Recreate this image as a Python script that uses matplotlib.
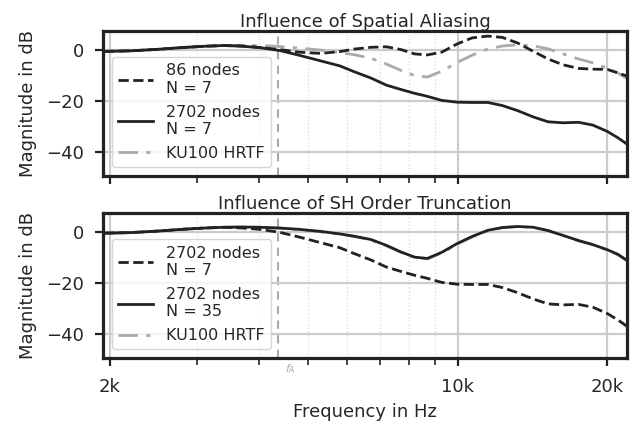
import numpy as np
import matplotlib
matplotlib.use("Agg")
from matplotlib import pyplot as plt
from matplotlib.ticker import FixedLocator, FixedFormatter, NullFormatter

# frequency grid (Hz) and magnitudes (dB)
freqs = [1950, 2200, 2500, 2800, 3100, 3400, 3700, 4000, 4400, 4800, 5300, 5800,
         6200, 6700, 7200, 7700, 8200, 8700, 9300, 10000, 10700, 11500, 12300,
         13200, 14200, 15200, 16300, 17500, 18700, 20000, 21000, 22100]

mag_86_n7 = [-0.5, -0.3, 0.3, 1.0, 1.5, 1.8, 1.6, 1.0, 0.2, -0.8, -1.3, -0.6,
             0.4, 1.1, 1.3, 0.2, -1.5, -1.9, -0.8, 2.5, 4.8, 5.5, 5.0,
             2.8, -0.5, -3.5, -5.8, -7.2, -7.5, -7.6, -9.0, -10.5]

mag_2702_n7 = [-0.5, -0.3, 0.3, 1.0, 1.5, 1.8, 1.5, 1.0, -0.2, -2.0, -4.2, -6.2,
               -8.5, -11.0, -13.8, -15.5, -17.0, -18.2, -19.8, -20.5, -20.6, -20.6, -21.8,
               -23.8, -26.3, -28.2, -28.6, -28.4, -29.5, -32.0, -34.5, -37.5]

mag_2702_n35 = [-0.5, -0.3, 0.3, 1.0, 1.5, 1.8, 1.9, 1.8, 1.5, 1.0, 0.2, -0.8,
                -1.7, -3.0, -5.3, -7.9, -9.9, -10.4, -8.0, -4.5, -1.8, 0.6, 1.7,
                2.1, 1.8, 0.5, -1.4, -3.4, -5.0, -7.0, -8.8, -11.7]

mag_ku100 = [-0.5, -0.3, 0.3, 1.0, 1.5, 1.8, 1.9, 1.8, 1.4, 0.8, 0.0, -1.0,
             -1.8, -3.2, -5.5, -8.0, -10.0, -10.6, -8.3, -4.8, -2.0, 0.4, 1.6,
             2.1, 1.7, 0.5, -1.5, -3.5, -5.0, -7.2, -9.0, -11.7]

f_alias = 4367
xticks = [2000, 10000, 20000]
xtick_labels = ["2k", "10k", "20k"]
minor_ticks = [3000, 4000, 5000, 6000, 7000, 8000, 9000]
yticks = [0, -20, -40]

dark = "#222222"
grey = "#aaaaaa"
txt = "#262626"

plt.rcParams["font.family"] = "DejaVu Sans"
plt.rcParams["font.size"] = 13

fig = plt.figure(figsize=(6.37, 4.25), dpi=100)
ax1 = fig.add_axes([0.1617, 0.586, 0.8226, 0.341])
ax2 = fig.add_axes([0.1617, 0.157, 0.8226, 0.3425])

panels = [
    (ax1, "Influence of Spatial Aliasing",
     [(mag_86_n7, "86 nodes\nN = 7", "--"), (mag_2702_n7, "2702 nodes\nN = 7", "-")]),
    (ax2, "Influence of SH Order Truncation",
     [(mag_2702_n7, "2702 nodes\nN = 7", "--"), (mag_2702_n35, "2702 nodes\nN = 35", "-")]),
]

for ax, title, series in panels:
    ax.set_xscale("log")
    ax.axvline(f_alias, color=grey, ls=(0, (4, 3)), lw=1.5, zorder=1)
    for vals, lab, ls in series:
        ax.plot(freqs, vals, color=dark, ls=ls, lw=2.0, label=lab, zorder=3)
    ax.plot(freqs, mag_ku100, color=grey, ls=(0, (7, 3, 1.5, 3)), lw=2.0,
            label="KU100 HRTF", zorder=2)

    ax.set_xlim(1940, 21900)
    ax.set_ylim(-49.5, 7.5)
    ax.xaxis.set_major_locator(FixedLocator(xticks))
    ax.xaxis.set_minor_locator(FixedLocator(minor_ticks))
    ax.xaxis.set_minor_formatter(NullFormatter())
    ax.set_yticks(yticks)
    ax.grid(True, which="major", color="#cccccc", lw=1.6, zorder=0)
    ax.grid(True, which="minor", axis="x", color="#dddddd", lw=1.0, ls=":", zorder=0)
    for sp in ax.spines.values():
        sp.set_linewidth(2.3)
        sp.set_color(dark)
    ax.tick_params(which="major", length=5.5, width=1.6, colors=dark, labelcolor=txt,
                   labelsize=13)
    ax.tick_params(axis="y", pad=8)
    ax.tick_params(which="minor", length=5, width=1.2, colors=dark)
    ax.set_title(title, fontsize=13, color=txt, pad=3)
    ax.set_ylabel("Magnitude in dB", color=txt, fontsize=13, labelpad=7)
    leg = ax.legend(loc="lower left", fontsize=11.5, handlelength=2.2,
                    borderaxespad=0.55, labelspacing=0.55, handletextpad=0.8,
                    framealpha=0.8)
    leg.get_frame().set_edgecolor("#cccccc")
    for t in leg.get_texts():
        t.set_color(txt)

ax1.xaxis.set_major_formatter(NullFormatter())
ax2.xaxis.set_major_formatter(FixedFormatter(xtick_labels))
ax2.tick_params(axis="x", pad=9)
ax2.set_xlabel("Frequency in Hz", color=txt, fontsize=13, labelpad=5)
ax2.text(f_alias * 1.03, -0.075, "$f_A$", transform=ax2.get_xaxis_transform(),
         ha="left", va="center", fontsize=8, color=grey)

fig.align_ylabels([ax1, ax2])
fig.savefig("out.png", dpi=100)
